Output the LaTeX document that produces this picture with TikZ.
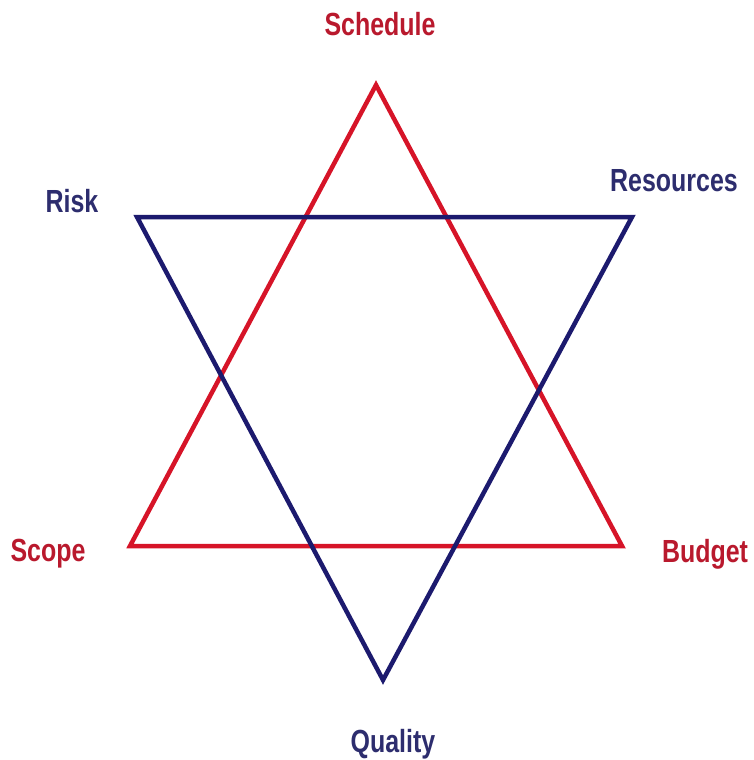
\documentclass[tikz,border=0pt]{standalone}
\usepackage{fontspec}
\setmainfont{Liberation Sans}
\usepackage{graphicx}
\usepackage{tikz}
\usetikzlibrary{positioning}
\definecolor{starred}{RGB}{214,20,40}
\definecolor{starblue}{RGB}{28,26,110}
\definecolor{labelred}{RGB}{185,25,45}
\definecolor{labelblue}{RGB}{45,45,110}
\tikzstyle{side} = [line width=4.5pt, line join=miter]
\tikzstyle{label} = [font=\fontsize{32}{34}\selectfont\bfseries, inner sep=0pt]

\begin{document}
\begin{tikzpicture}[x=1pt, y=-1pt]
\useasboundingbox (0,0) rectangle (754,760);

% Corners of the two triangles
\coordinate (top) at (376,85);
\coordinate (left) at (130,546);
\coordinate (right) at (622,546);
\coordinate (tl) at (137,217);
\coordinate (tr) at (632,217);
\coordinate (bottom) at (383,680);

% Triangles
\draw [side, draw=starred] (top) -- (right) -- (left) -- cycle;
\draw [side, draw=starblue] (tl) -- (tr) -- (bottom) -- cycle;

% Labels
\node (schedule) [label, text=labelred] at (380,24) {\scalebox{0.78}[1]{Schedule}};
\node (resources) [label, text=labelblue] at (674,181) {\scalebox{0.78}[1]{Resources}};
\node (risk) [label, text=labelblue] at (72,201) {\scalebox{0.78}[1]{Risk}};
\node (scope) [label, text=labelred] at (48,554) {\scalebox{0.78}[1]{Scope}};
\node (budget) [label, text=labelred] at (705,554) {\scalebox{0.78}[1]{Budget}};
\node (quality) [label, text=labelblue] at (393,744) {\scalebox{0.78}[1]{Quality}};

\end{tikzpicture}
\end{document}
